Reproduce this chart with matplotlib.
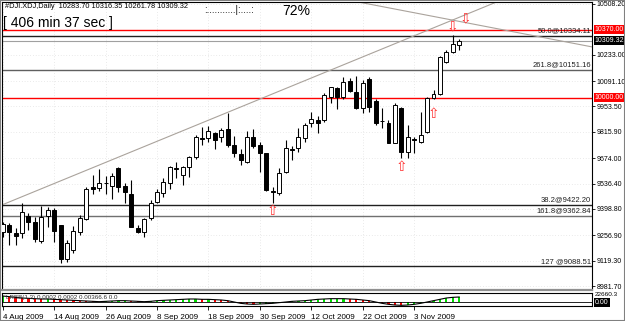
import matplotlib
matplotlib.use("Agg")
import matplotlib.pyplot as plt
from matplotlib.patches import Rectangle
import numpy as np

# ---------------- data ----------------
opens = [9274.0, 9313.6, 9270.2, 9267.0, 9362.3, 9329.8, 9226.9, 9360.6, 9393.1, 9310.3,
         9127.9, 9176.6, 9275.6, 9342.8, 9517.6, 9510.6, 9537.6, 9523.0, 9618.8, 9523.0,
         9479.7, 9297.3, 9275.6, 9348.2, 9438.1, 9486.8, 9540.9, 9620.5, 9582.6, 9627.5,
         9678.4, 9782.9, 9781.3, 9811.6, 9789.9, 9830.0, 9745.0, 9696.2, 9654.6, 9786.6,
         9745.0, 9700.0, 9493.8, 9486.8, 9600.4, 9723.3, 9727.1, 9781.3, 9862.4, 9880.3,
         9880.3, 10006.4, 10051.9, 10003.2, 10093.0, 10033.5, 9943.7, 10100.6, 9984.8, 9876.5,
         9865.7, 9757.4, 9946.9, 9708.7, 9779.1, 9762.8, 9817.0, 9997.7, 10021.0, 10195.9,
         10246.7, 10283.70]
highs = [9328.1, 9322.8, 9295.7, 9432.6, 9376.9, 9356.8, 9414.8, 9407.7, 9403.9, 9312.0,
         9230.7, 9306.5, 9366.0, 9516.0, 9582.6, 9613.4, 9577.2, 9595.0, 9627.5, 9537.6,
         9555.5, 9312.0, 9348.2, 9447.3, 9505.2, 9564.7, 9631.3, 9654.6, 9631.3, 9685.4,
         9799.1, 9844.0, 9847.8, 9817.0, 9835.4, 9916.6, 9793.7, 9721.7, 9822.4, 9830.0,
         9762.8, 9703.3, 9519.2, 9618.8, 9771.9, 9739.6, 9835.4, 9862.4, 9925.2, 9901.9,
         10024.8, 10060.5, 10057.3, 10114.7, 10106.0, 10118.5, 10096.8, 10114.7, 9992.3, 9943.7,
         9880.3, 9970.7, 9952.3, 9853.2, 9789.9, 9925.2, 10006.4, 10042.7, 10226.7, 10259.2,
         10340.4, 10316.35]
lows = [9247.0, 9203.7, 9203.7, 9241.6, 9284.9, 9221.5, 9216.1, 9302.7, 9221.5, 9107.9,
        9113.3, 9158.7, 9257.8, 9339.0, 9479.7, 9497.6, 9479.7, 9451.0, 9492.2, 9429.4,
        9299.5, 9267.0, 9245.4, 9339.3, 9429.4, 9465.1, 9505.2, 9564.7, 9528.4, 9573.4,
        9667.6, 9745.0, 9762.8, 9721.7, 9762.8, 9732.5, 9681.6, 9636.7, 9645.9, 9727.1,
        9600.4, 9497.6, 9429.4, 9474.3, 9595.0, 9663.8, 9708.7, 9762.8, 9844.0, 9808.3,
        9871.1, 9974.0, 9938.2, 9992.3, 10033.5, 9938.2, 9916.6, 9925.2, 9853.2, 9835.4,
        9754.2, 9754.2, 9672.9, 9672.9, 9703.3, 9757.4, 9811.6, 9992.3, 10015.6, 10188.8,
        10241.3, 10261.78]
closes = [9317.3, 9275.6, 9252.4, 9383.9, 9329.8, 9234.5, 9356.8, 9393.1, 9279.4, 9127.9,
          9212.9, 9277.8, 9347.8, 9505.1, 9506.8, 9537.6, 9539.0, 9577.2, 9519.2, 9492.2,
          9302.7, 9275.6, 9342.8, 9429.4, 9492.2, 9546.3, 9627.5, 9617.2, 9624.3, 9678.4,
          9789.9, 9779.6, 9822.4, 9772.0, 9826.2, 9745.0, 9700.0, 9663.8, 9786.6, 9739.6,
          9703.3, 9501.4, 9490.6, 9595.0, 9727.1, 9720.1, 9786.6, 9853.2, 9884.1, 9862.4,
          10015.6, 10057.3, 10003.2, 10087.6, 10038.9, 9943.7, 10082.2, 9952.3, 9862.4, 9873.3,
          9757.4, 9961.5, 9708.7, 9786.6, 9773.7, 9799.1, 9997.7, 10019.4, 10222.9, 10246.7,
          10291.7, 10309.32]

date_labels = ["4 Aug 2009", "14 Aug 2009", "26 Aug 2009", "8 Sep 2009", "18 Sep 2009",
               "30 Sep 2009", "12 Oct 2009", "22 Oct 2009", "3 Nov 2009"]
date_label_bars = [0, 8, 16, 24, 32, 40, 48, 56, 64]

price_ticks = [10508.2, 10233.0, 10091.1, 9953.5, 9815.9, 9674.0, 9536.4, 9398.8,
               9256.9, 9119.3, 8981.7]

red_levels = [10370.00, 10000.00]
bid_price = 10309.32

fib_labels = ["50.0@10334.11", "261.8@10151.16", "38.2@9422.20", "161.8@9362.84", "127 @9088.51"]
fib_prices = [10334.11, 10151.16, 9422.20, 9362.84, 9088.51]
fib_colors = ["#202020", "#606060", "#202020", "#707070", "#202020"]

trend_up = [(0.0, 9422.2), (76.8, 10519.0)]
trend_dn = [(55.3, 10519.0), (91.65, 10276.0)]

up_arrow_bars = [42, 62, 67]
up_arrow_prices = [9425.0, 9664.0, 9950.0]
dn_arrow_bars = [70, 72]
dn_arrow_prices = [10351.0, 10394.0]

osc = [0.9, 0.8, 0.7, 0.6, 0.55, 0.5, 0.45, 0.45, 0.4, 0.35, 0.3, 0.25, 0.2, 0.15,
       0.1, 0.05, 0.1, 0.15, 0.2, 0.2, 0.15, 0.1, 0.05, 0.1, 0.2,
       0.25, 0.3, 0.35, 0.4, 0.45, 0.45, 0.4, 0.4, 0.35, 0.3, 0.2,
       0.0, -0.2, -0.3, -0.35, -0.3, -0.25, -0.2, -0.1, 0.0,
       0.1, 0.15, 0.2, 0.3, 0.4, 0.45, 0.5, 0.5, 0.5, 0.45, 0.4, 0.3, 0.2,
       0.0, -0.2, -0.35, -0.45, -0.5, -0.45, -0.35, -0.2, 0.0,
       0.2, 0.4, 0.6, 0.7, 0.75]

# ---------------- figure ----------------
W, H = 625, 321
fig = plt.figure(figsize=(W / 100, H / 100), dpi=100)
fig.patch.set_facecolor("white")

FONT = "Liberation Sans"
LBL = 5.0

def fx(px):
    return px / W

def fy(py):
    return 1 - py / H

left_px, right_px = 2, 592
main_top, main_bot = 2, 290
ind_top, ind_bot = 293, 306

ax = fig.add_axes([fx(left_px), fy(main_bot), fx(right_px - left_px), (main_bot - main_top) / H])
ax2 = fig.add_axes([fx(left_px), fy(ind_bot), fx(right_px - left_px), (ind_bot - ind_top) / H])

n = len(closes)
x = np.arange(n)
xlim = (-0.11, 91.65)
ylim = (8960.1, 10519.0)

# candles
for i in range(n):
    o, h, l, c = opens[i], highs[i], lows[i], closes[i]
    ax.vlines(i, l, h, color="black", lw=0.8, zorder=3)
    bottom = min(o, c)
    height = max(abs(c - o), 4.0)
    fc = "white" if c >= o else "black"
    ax.add_patch(Rectangle((i - 0.31, bottom), 0.62, height, facecolor=fc,
                           edgecolor="black", lw=0.7, zorder=4))

ax.set_xlim(*xlim)
ax.set_ylim(*ylim)

# horizontal levels
for p in red_levels:
    ax.axhline(p, color="#ff0000", lw=1.0, zorder=2)
ax.axhline(bid_price, color="#a0a0a0", lw=0.8, zorder=2)
for lab, p, col in zip(fib_labels, fib_prices, fib_colors):
    ax.axhline(p, color=col, lw=1.0, zorder=2)
    ax.text(91.5, p + 8, lab, ha="right", va="bottom", fontsize=5.5, family=FONT,
            color="#202020", zorder=5)

# trend lines
ax.axline(trend_up[0], trend_up[1], color="#aaa39c", lw=0.8, zorder=2)
ax.axline(trend_dn[0], trend_dn[1], color="#aaa39c", lw=0.8, zorder=2)

# arrows
for b, p in zip(up_arrow_bars, up_arrow_prices):
    ax.text(b, p, "\u21e7", color="#ff3030", fontsize=10, ha="center", va="top",
            family="DejaVu Sans", zorder=6)
for b, p in zip(dn_arrow_bars, dn_arrow_prices):
    ax.text(b, p, "\u21e9", color="#ff3030", fontsize=10, ha="center", va="bottom",
            family="DejaVu Sans", zorder=6)

# y axis on the right
ax.yaxis.tick_right()
ax.set_yticks(price_ticks)
ax.set_yticklabels([f"{v:.2f}" for v in price_ticks], fontsize=LBL, family=FONT)
ax.tick_params(axis="y", length=2.5, width=0.6, pad=1, colors="black")
ax.set_xticks([])
for s in ax.spines.values():
    s.set_linewidth(0.8)
    s.set_color("black")
ax.spines["bottom"].set_color("#909090")
ax.spines["bottom"].set_linewidth(1.6)

# grid dots
for p in price_ticks:
    ax.axhline(p, color="#d6d6d6", lw=0.5, ls=(0, (1, 3)), zorder=1)
for b in date_label_bars:
    ax.axvline(b, color="#d6d6d6", lw=0.5, ls=(0, (1, 3)), zorder=1)

# price boxes
def yfrac(p):
    return (p - ylim[0]) / (ylim[1] - ylim[0])

for p in red_levels:
    ax.text(1.005, yfrac(p), f"{p:.2f}", transform=ax.transAxes,
            ha="left", va="center", fontsize=LBL, family=FONT, color="white",
            bbox=dict(boxstyle="square,pad=0.15", fc="#ff0000", ec="none"), zorder=10,
            clip_on=False)
ax.text(1.005, yfrac(bid_price), f"{bid_price:.2f}",
        transform=ax.transAxes, ha="left", va="center", fontsize=LBL, family=FONT,
        color="white", bbox=dict(boxstyle="square,pad=0.15", fc="black", ec="none"),
        zorder=10, clip_on=False)

# indicator window
osc_arr = np.array(osc)
cols = ["#00dd00" if (i == 0 or osc_arr[i] >= osc_arr[i - 1]) else "#ff0000" for i in range(n)]
ax2.bar(x, osc_arr, width=0.35, color=cols, zorder=2)
ax2.plot(x, osc_arr, color="black", lw=0.8, zorder=3)
ax2.axhline(0, color="black", lw=0.6)
ax2.set_xlim(*xlim)
ax2.set_ylim(-0.6, 1.35)
ax2.set_yticks([])
ax2.set_xticks(date_label_bars)
ax2.set_xticklabels(date_labels, fontsize=5.8, family=FONT)
for t in ax2.get_xticklabels():
    t.set_horizontalalignment("left")
ax2.tick_params(axis="x", length=3, width=0.6, pad=3)
for s in ax2.spines.values():
    s.set_linewidth(0.8)
    s.set_color("black")
ax2.text(0.5, 1.0, "LRBB(1,3) 0.0002 0.0002 0.00366.6 0.0", fontsize=4.5, family=FONT,
         color="#303030", va="top", ha="left", zorder=5)
ax2.text(1.005, 0.85, "22660.3", transform=ax2.transAxes, fontsize=4.6, family=FONT,
         va="center", ha="left", clip_on=False)
ax2.text(1.005, 0.3, "0.00", transform=ax2.transAxes, fontsize=LBL, family=FONT,
         va="center", ha="left", color="white",
         bbox=dict(boxstyle="square,pad=0.15", fc="black", ec="none"), clip_on=False)

# header texts
fig.text(fx(5), fy(7), "#DJI.XDJ,Daily  10283.70 10316.35 10261.78 10309.32",
         fontsize=5.3, family=FONT, va="center", ha="left")
fig.text(fx(204), fy(10), ":...........|:....:", fontsize=7, family=FONT, va="center", ha="left")
fig.text(fx(282), fy(11), "72%", fontsize=10, family=FONT, va="center", ha="left")
fig.text(fx(3), fy(23), "[ 406 min 37 sec ]", fontsize=10, family=FONT, va="center", ha="left")

# outer frame
fig.add_artist(Rectangle((0, 0), 1, 1, transform=fig.transFigure, fill=False,
                         ec="#808080", lw=1.5))

fig.savefig("out.png", dpi=100)
